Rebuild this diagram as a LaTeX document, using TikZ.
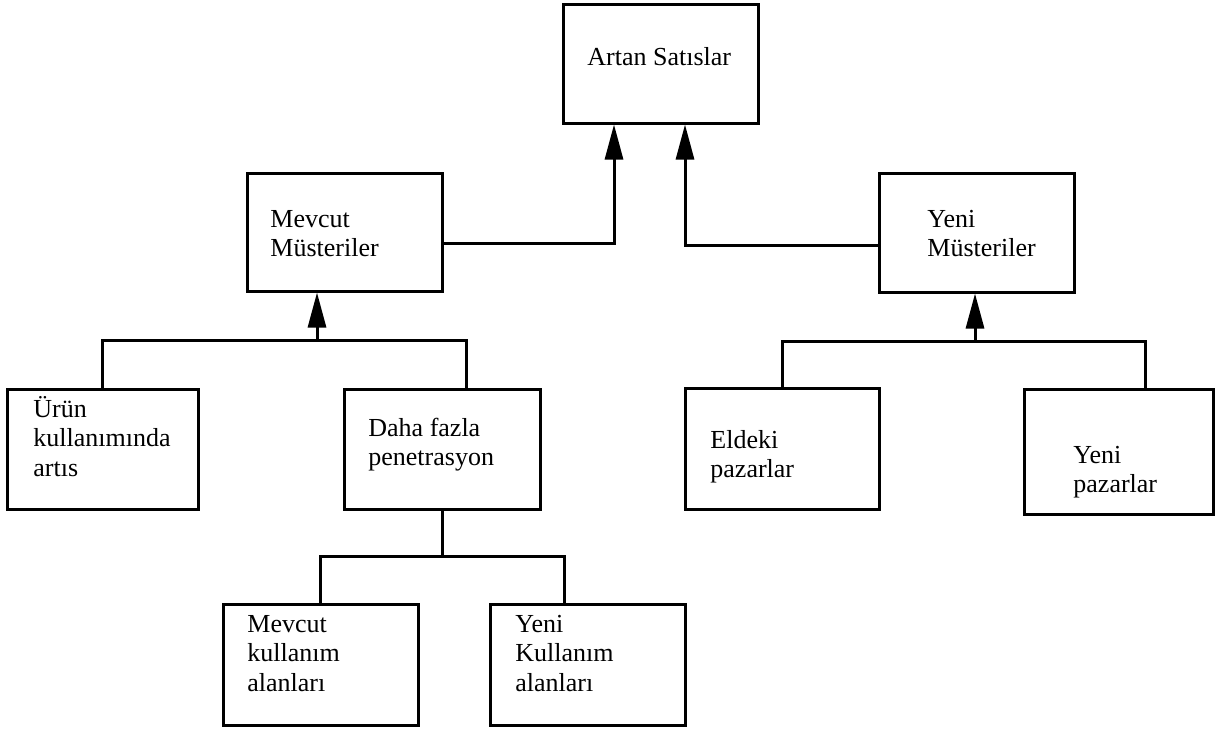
\documentclass[tikz,border=0pt]{standalone}
\usepackage{fontspec}
\setmainfont{Liberation Serif}
\usetikzlibrary{arrows.meta,fit}
% left-aligned block of lines, baseline on the first line
\newcommand{\stack}[1]{\begin{tabular}[t]{@{}l@{}}#1\end{tabular}}
\begin{document}
\begin{tikzpicture}[x=0.5pt,y=-0.5pt,
  box/.style={draw, line width=1.5pt, inner sep=0pt, rectangle},
  lbl/.style={anchor=base west, inner sep=0pt, font=\fontsize{13}{14.8}\selectfont},
  conn/.style={line width=1.5pt},
  arr/.style={line width=1.5pt, -{Triangle[length=17.5pt,width=9pt]}}]
\useasboundingbox (0,0) rectangle (1218,728);

% boxes
\node[box, fit={(563,4) (758,123)}]    (artan)  {};
\node[box, fit={(247,173) (442,291)}]  (mevcut) {};
\node[box, fit={(879,173) (1074,292)}] (yenim)  {};
\node[box, fit={(7,389) (198,509)}]    (urun)   {};
\node[box, fit={(344,389) (540,509)}]  (daha)   {};
\node[box, fit={(685,388) (879,509)}]  (eldeki) {};
\node[box, fit={(1024,389) (1213,514)}] (yenip) {};
\node[box, fit={(223,604) (418,725)}]  (mkul)   {};
\node[box, fit={(490,604) (685,725)}]  (ykul)   {};

% texts
\node[lbl] (artan-t)  at (587,65)   {Artan Satıslar};
\node[lbl] (mevcut-t) at (270,227)  {\stack{Mevcut\\Müsteriler}};
\node[lbl] (yenim-t)  at (927,227)  {\stack{Yeni\\Müsteriler}};
\node[lbl] (urun-t)   at (33,417)   {\stack{Ürün\\kullanımında\\artıs}};
\node[lbl] (daha-t)   at (368,436)  {\stack{Daha fazla\\penetrasyon}};
\node[lbl] (eldeki-t) at (710,448)  {\stack{Eldeki\\pazarlar}};
\node[lbl] (yenip-t)  at (1073,463) {\stack{Yeni\\pazarlar}};
\node[lbl] (mkul-t)   at (247,632)  {\stack{Mevcut\\kullanım\\alanları}};
\node[lbl] (ykul-t)   at (515,632)  {\stack{Yeni\\Kullanım\\alanları}};

% top level
\draw[arr] (mevcut.east |- 0,243) -| (artan.south -| 614,0);
\draw[arr] (yenim.west |- 0,245) -| (artan.south -| 685,0);

% existing customers branch
\draw[conn] (urun.north) |- (466,340) -- (daha.north -| 466,0);
\draw[arr] (317,340) -- (mevcut.south -| 317,0);

% new customers branch
\draw[conn] (eldeki.north) |- (1145,341) -- (yenip.north -| 1145,0);
\draw[arr] (975,341) -- (yenim.south -| 975,0);

% penetration branch
\draw[conn] (daha.south) -- (daha.south |- 0,556);
\draw[conn] (mkul.north) |- (564,556) -- (ykul.north -| 564,0);
\end{tikzpicture}
\end{document}
